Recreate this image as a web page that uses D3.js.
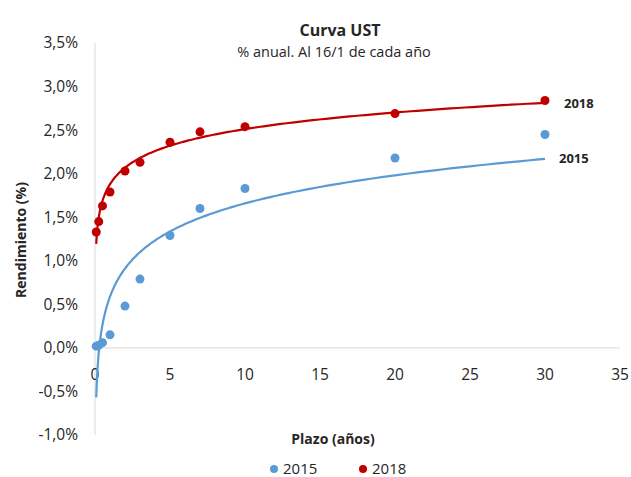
<!DOCTYPE html>
<html>
<head>
<meta charset="utf-8">
<script src="https://cdn.jsdelivr.net/npm/d3@7"></script>
<style>
  body { margin: 0; background: #fff; }
  text { font-family: "Open Sans", "Noto Sans", sans-serif; fill: #262626; }
</style>
</head>
<body>
<div class="chart"></div>
<script>
var svgWidth = 631;
var svgHeight = 477;

// plazo en años
var plazos = [0.083, 0.25, 0.5, 1, 2, 3, 5, 7, 10, 20, 30];
var y2015 = [0.02, 0.03, 0.06, 0.15, 0.48, 0.79, 1.29, 1.60, 1.83, 2.18, 2.45];
var y2018 = [1.33, 1.45, 1.63, 1.79, 2.03, 2.13, 2.36, 2.48, 2.54, 2.69, 2.84];
var xTicks = [0, 5, 10, 15, 20, 25, 30, 35];
var yTicks = [-1, -0.5, 0, 0.5, 1, 1.5, 2, 2.5, 3, 3.5];
var seriesNames = ["2015", "2018"];
var colors = ["#5b9bd5", "#c00000"];

var svg = d3.select(".chart")
    .append("svg")
    .attr("width", svgWidth)
    .attr("height", svgHeight);

var xScale = d3.scaleLinear().domain([0, 35]).range([95, 620]);
var yScale = d3.scaleLinear().domain([-1, 3.5]).range([435, 43]);

// axis lines
svg.append("line")
    .attr("x1", xScale(0)).attr("x2", xScale(0))
    .attr("y1", yScale(3.5)).attr("y2", yScale(-1))
    .attr("stroke", "#d9d9d9");
svg.append("line")
    .attr("x1", xScale(0)).attr("x2", xScale(35))
    .attr("y1", yScale(0)).attr("y2", yScale(0))
    .attr("stroke", "#d9d9d9");

// y tick labels
svg.selectAll(".ylab")
    .data(yTicks)
    .enter()
    .append("text")
    .attr("x", 78)
    .attr("y", d => yScale(d))
    .attr("dy", "0.35em")
    .attr("text-anchor", "end")
    .style("font-size", "15.5px")
    .text(d => d3.format(".1f")(d).replace(".", ",").replace("\u2212", "-") + "%");

// x tick labels
svg.selectAll(".xlab")
    .data(xTicks)
    .enter()
    .append("text")
    .attr("x", d => xScale(d))
    .attr("y", yScale(0) + 27)
    .attr("dy", "0.35em")
    .attr("text-anchor", "middle")
    .style("font-size", "15.5px")
    .text(d => d);

// logarithmic trendline (least squares on ln x)
function logFit(xs, ys) {
  var lx = xs.map(Math.log);
  var mx = d3.mean(lx), my = d3.mean(ys);
  var sxy = d3.sum(lx, (v, i) => (v - mx) * (ys[i] - my));
  var sxx = d3.sum(lx, v => (v - mx) * (v - mx));
  var a = sxy / sxx;
  var b = my - a * mx;
  return x => a * Math.log(x) + b;
}

var line = d3.line()
    .x(d => xScale(d[0]))
    .y(d => yScale(d[1]));

[y2015, y2018].forEach(function(vals, i) {
  var f = logFit(plazos, vals);
  var xs = d3.range(0, 301).map(k => plazos[0] * Math.pow(30 / plazos[0], k / 300));
  svg.append("path")
      .datum(xs.map(x => [x, f(x)]))
      .attr("d", line)
      .attr("fill", "none")
      .attr("stroke", colors[i])
      .attr("stroke-width", 2.2);

  svg.selectAll(".dot" + i)
      .data(vals)
      .enter()
      .append("circle")
      .attr("cx", (d, j) => xScale(plazos[j]))
      .attr("cy", d => yScale(d))
      .attr("r", 4.5)
      .attr("fill", colors[i]);
});

// series labels
svg.append("text")
    .attr("x", 564).attr("y", 103)
    .attr("dy", "0.35em")
    .style("font-size", "13px").style("font-weight", "bold")
    .text("2018");
svg.append("text")
    .attr("x", 559).attr("y", 158)
    .attr("dy", "0.35em")
    .style("font-size", "13px").style("font-weight", "bold")
    .text("2015");

// titles
svg.append("text")
    .attr("x", 340).attr("y", 30)
    .attr("dy", "0.35em")
    .attr("text-anchor", "middle")
    .style("font-size", "16px").style("font-weight", "bold")
    .text("Curva UST");
svg.append("text")
    .attr("x", 334).attr("y", 52)
    .attr("dy", "0.35em")
    .attr("text-anchor", "middle")
    .style("font-size", "14.5px")
    .text("% anual. Al 16/1 de cada año");

// axis titles
svg.append("text")
    .attr("transform", "translate(21, 240) rotate(-90)")
    .attr("dy", "0.35em")
    .attr("text-anchor", "middle")
    .style("font-size", "14px").style("font-weight", "bold")
    .text("Rendimiento (%)");
svg.append("text")
    .attr("x", 333).attr("y", 439)
    .attr("dy", "0.35em")
    .attr("text-anchor", "middle")
    .style("font-size", "14px").style("font-weight", "bold")
    .text("Plazo (años)");

// legend
var legend = svg.selectAll(".legend")
    .data(seriesNames)
    .enter()
    .append("g")
    .attr("transform", (d, i) => `translate(${274 + i * 89}, 469)`);
legend.append("circle")
    .attr("r", 4)
    .attr("fill", (d, i) => colors[i]);
legend.append("text")
    .attr("x", 9)
    .attr("dy", "0.35em")
    .style("font-size", "15px")
    .text(d => d);
</script>
</body>
</html>
